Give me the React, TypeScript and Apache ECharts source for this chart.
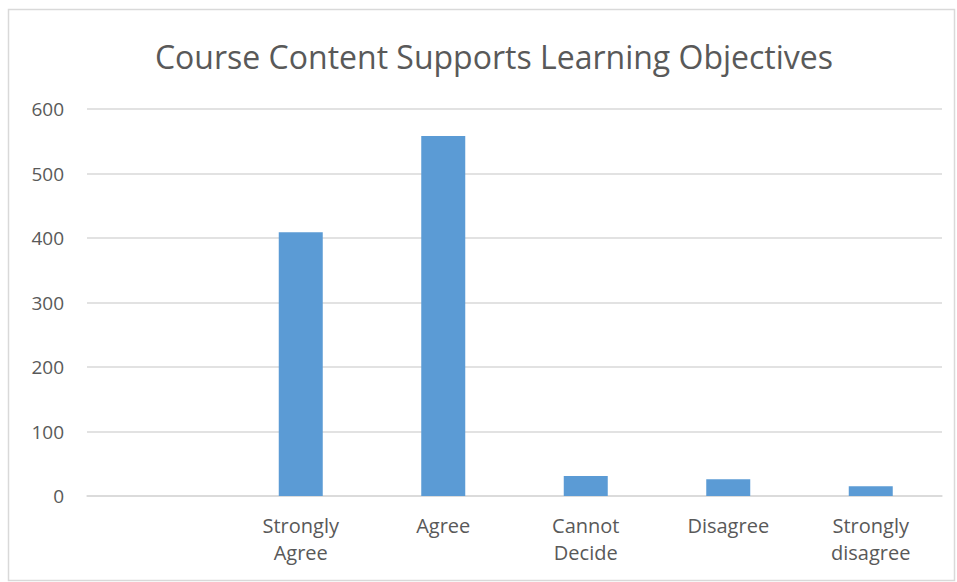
import React, { useEffect, useRef } from "react";
import * as echarts from "echarts";

const chartTitle = "Course Content Supports Learning Objectives";
const categories = ["", "Strongly\nAgree", "Agree", "Cannot\nDecide", "Disagree", "Strongly\ndisagree"];
const responses = [null, 409, 558, 31, 26, 15];
const yTicks = { min: 0, max: 600, interval: 100 };

export default function App() {
  const ref = useRef<HTMLDivElement>(null);
  useEffect(() => {
    if (!ref.current) return;
    const chart = echarts.init(ref.current, null, { renderer: "svg" });
    const font = "'Open Sans', 'Noto Sans', sans-serif";
    chart.setOption({
      animation: false,
      backgroundColor: "#ffffff",
      title: {
        text: chartTitle,
        left: 489,
        top: 35,
        textAlign: "center",
        textStyle: { fontFamily: font, fontSize: 32, fontWeight: "normal", color: "#595959" },
      },
      graphic: [
        {
          type: "rect",
          shape: { x: 8.5, y: 9.5, width: 946, height: 571 },
          style: { fill: "none", stroke: "#d9d9d9", lineWidth: 1.5 },
          silent: true,
        },
      ],
      grid: { left: 87, right: 15, top: 109, bottom: 86, containLabel: false },
      xAxis: {
        type: "category",
        data: categories,
        axisLine: { show: true, lineStyle: { color: "#d9d9d9", width: 1.5 } },
        axisTick: { show: false },
        axisLabel: {
          interval: 0,
          margin: 16,
          fontFamily: font,
          fontSize: 20,
          lineHeight: 27,
          color: "#595959",
        },
      },
      yAxis: {
        type: "value",
        min: yTicks.min,
        max: yTicks.max,
        interval: yTicks.interval,
        axisLine: { show: false },
        axisTick: { show: false },
        splitLine: { lineStyle: { color: "#d9d9d9", width: 1.5 } },
        axisLabel: { margin: 23, fontFamily: font, fontSize: 19, color: "#595959" },
      },
      series: [
        {
          type: "bar",
          data: responses,
          barWidth: 44,
          itemStyle: { color: "#5b9bd5" },
        },
      ],
    });
    return () => chart.dispose();
  }, []);
  return (
    <div
      ref={ref}
      style={{ position: "absolute", left: 0, top: 0, width: 957, height: 582 }}
    />
  );
}
